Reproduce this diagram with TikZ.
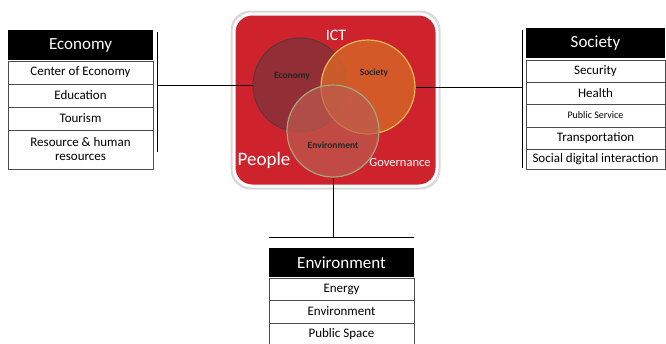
\documentclass[tikz,border=0pt]{standalone}
\usepackage{fontspec}
\setmainfont{Carlito}
\definecolor{boxred}{RGB}{206,34,44}
\definecolor{ecofill}{RGB}{140,48,55}
\definecolor{socfill}{RGB}{212,100,40}
\definecolor{socedge}{RGB}{232,185,80}
\definecolor{envfill}{RGB}{190,90,78}
\definecolor{envedge}{RGB}{165,165,125}
\definecolor{ecoedge}{RGB}{95,55,58}
\begin{document}
\begin{tikzpicture}[x=1pt,y=-1pt,
  hdr/.style={fill=black,text=white,minimum height=30pt,inner sep=0pt,font=\fontsize{17}{17}\selectfont},
  cell/.style={draw=black!70,line width=0.6pt,fill=white,inner sep=0pt,align=center,font=\fontsize{13}{14}\selectfont},
  conn/.style={line width=1pt,black},
  vlabel/.style={font=\fontsize{9.5}{10}\selectfont\bfseries,text=black!85},
  wlabel/.style={text=white}]
\useasboundingbox (0,0) rectangle (666,343);
% central red panel
\fill[black!15,rounded corners=20pt] (230.5,10.5) rectangle (440.5,189.5);
\draw[white,line width=3pt,fill=boxred,rounded corners=18pt] (234,14) rectangle (437,186);
% circles
\node[circle,draw=ecoedge,line width=1pt,fill=ecofill,fill opacity=0.92,minimum size=94pt,inner sep=0pt] (ecoC) at (300,85) {};
\node[circle,draw=socedge,line width=1.2pt,fill=socfill,fill opacity=0.85,minimum size=94pt,inner sep=0pt] (socC) at (368,87) {};
\node[circle,draw=envedge,line width=1.2pt,fill=envfill,fill opacity=0.72,minimum size=92pt,inner sep=0pt] (envC) at (333,131) {};
\node[vlabel] (ecoL) at (292,76) {Economy};
\node[vlabel] (socL) at (374,73) {Society};
\node[vlabel] (envL) at (333,145) {Environment};
\node[wlabel,font=\fontsize{16}{16}\selectfont] (ict) at (336,35) {ICT};
\node[wlabel,font=\fontsize{19}{19}\selectfont] (people) at (264,160) {People};
\node[wlabel,font=\fontsize{12.5}{13}\selectfont] (gov) at (400,162) {Governance};
% Economy table
\node[hdr,minimum width=145pt] (ecoH) at (80.5,45) {Economy};
\node[cell,minimum width=145pt,minimum height=23pt] (eco1) at (80.5,72.5) {Center of Economy};
\node[cell,minimum width=145pt,minimum height=23pt] (eco2) at (80.5,95.5) {Education};
\node[cell,minimum width=145pt,minimum height=23pt] (eco3) at (80.5,118.5) {Tourism};
\node[cell,minimum width=145pt,minimum height=39pt] (eco4) at (80.5,149.5) {Resource \& human\\resources};
% Society table
\node[hdr,minimum width=139pt] (socH) at (595.5,43) {Society};
\node[cell,minimum width=139pt,minimum height=22pt] (soc1) at (595.5,71) {Security};
\node[cell,minimum width=139pt,minimum height=22pt] (soc2) at (595.5,93) {Health};
\node[cell,minimum width=139pt,minimum height=23pt,font=\fontsize{10}{11}\selectfont] (soc3) at (595.5,115.5) {Public Service};
\node[cell,minimum width=139pt,minimum height=22pt] (soc4) at (595.5,138) {Transportation};
\node[cell,minimum width=139pt,minimum height=20pt] (soc5) at (595.5,159) {Social digital interaction};
% Environment table
\node[hdr,minimum width=145pt,minimum height=29pt] (envH) at (341.5,262.5) {Environment};
\node[cell,minimum width=145pt,minimum height=22pt] (env1) at (341.5,289) {Energy};
\node[cell,minimum width=145pt,minimum height=23pt] (env2) at (341.5,311.5) {Environment};
\node[cell,minimum width=145pt,minimum height=23pt] (env3) at (341.5,334.5) {Public Space};
% bars
\coordinate (ecoBarT) at (157,32);
\coordinate (ecoBarB) at (157,152);
\coordinate (socBarT) at (522,30);
\coordinate (socBarB) at (522,168);
\coordinate (envBarL) at (269,237);
\coordinate (envBarR) at (414,237);
\draw[conn] (ecoBarT) -- (ecoBarB);
\draw[conn] (socBarT) -- (socBarB);
\draw[conn] (envBarL) -- (envBarR);
% connectors
\draw[conn] (ecoC.west) -- (ecoC.west -| ecoBarT);
\draw[conn] (socC.east) -- (socC.east -| socBarT);
\draw[conn] (envC.south) -- (envC.south |- envBarL);
\end{tikzpicture}
\end{document}
